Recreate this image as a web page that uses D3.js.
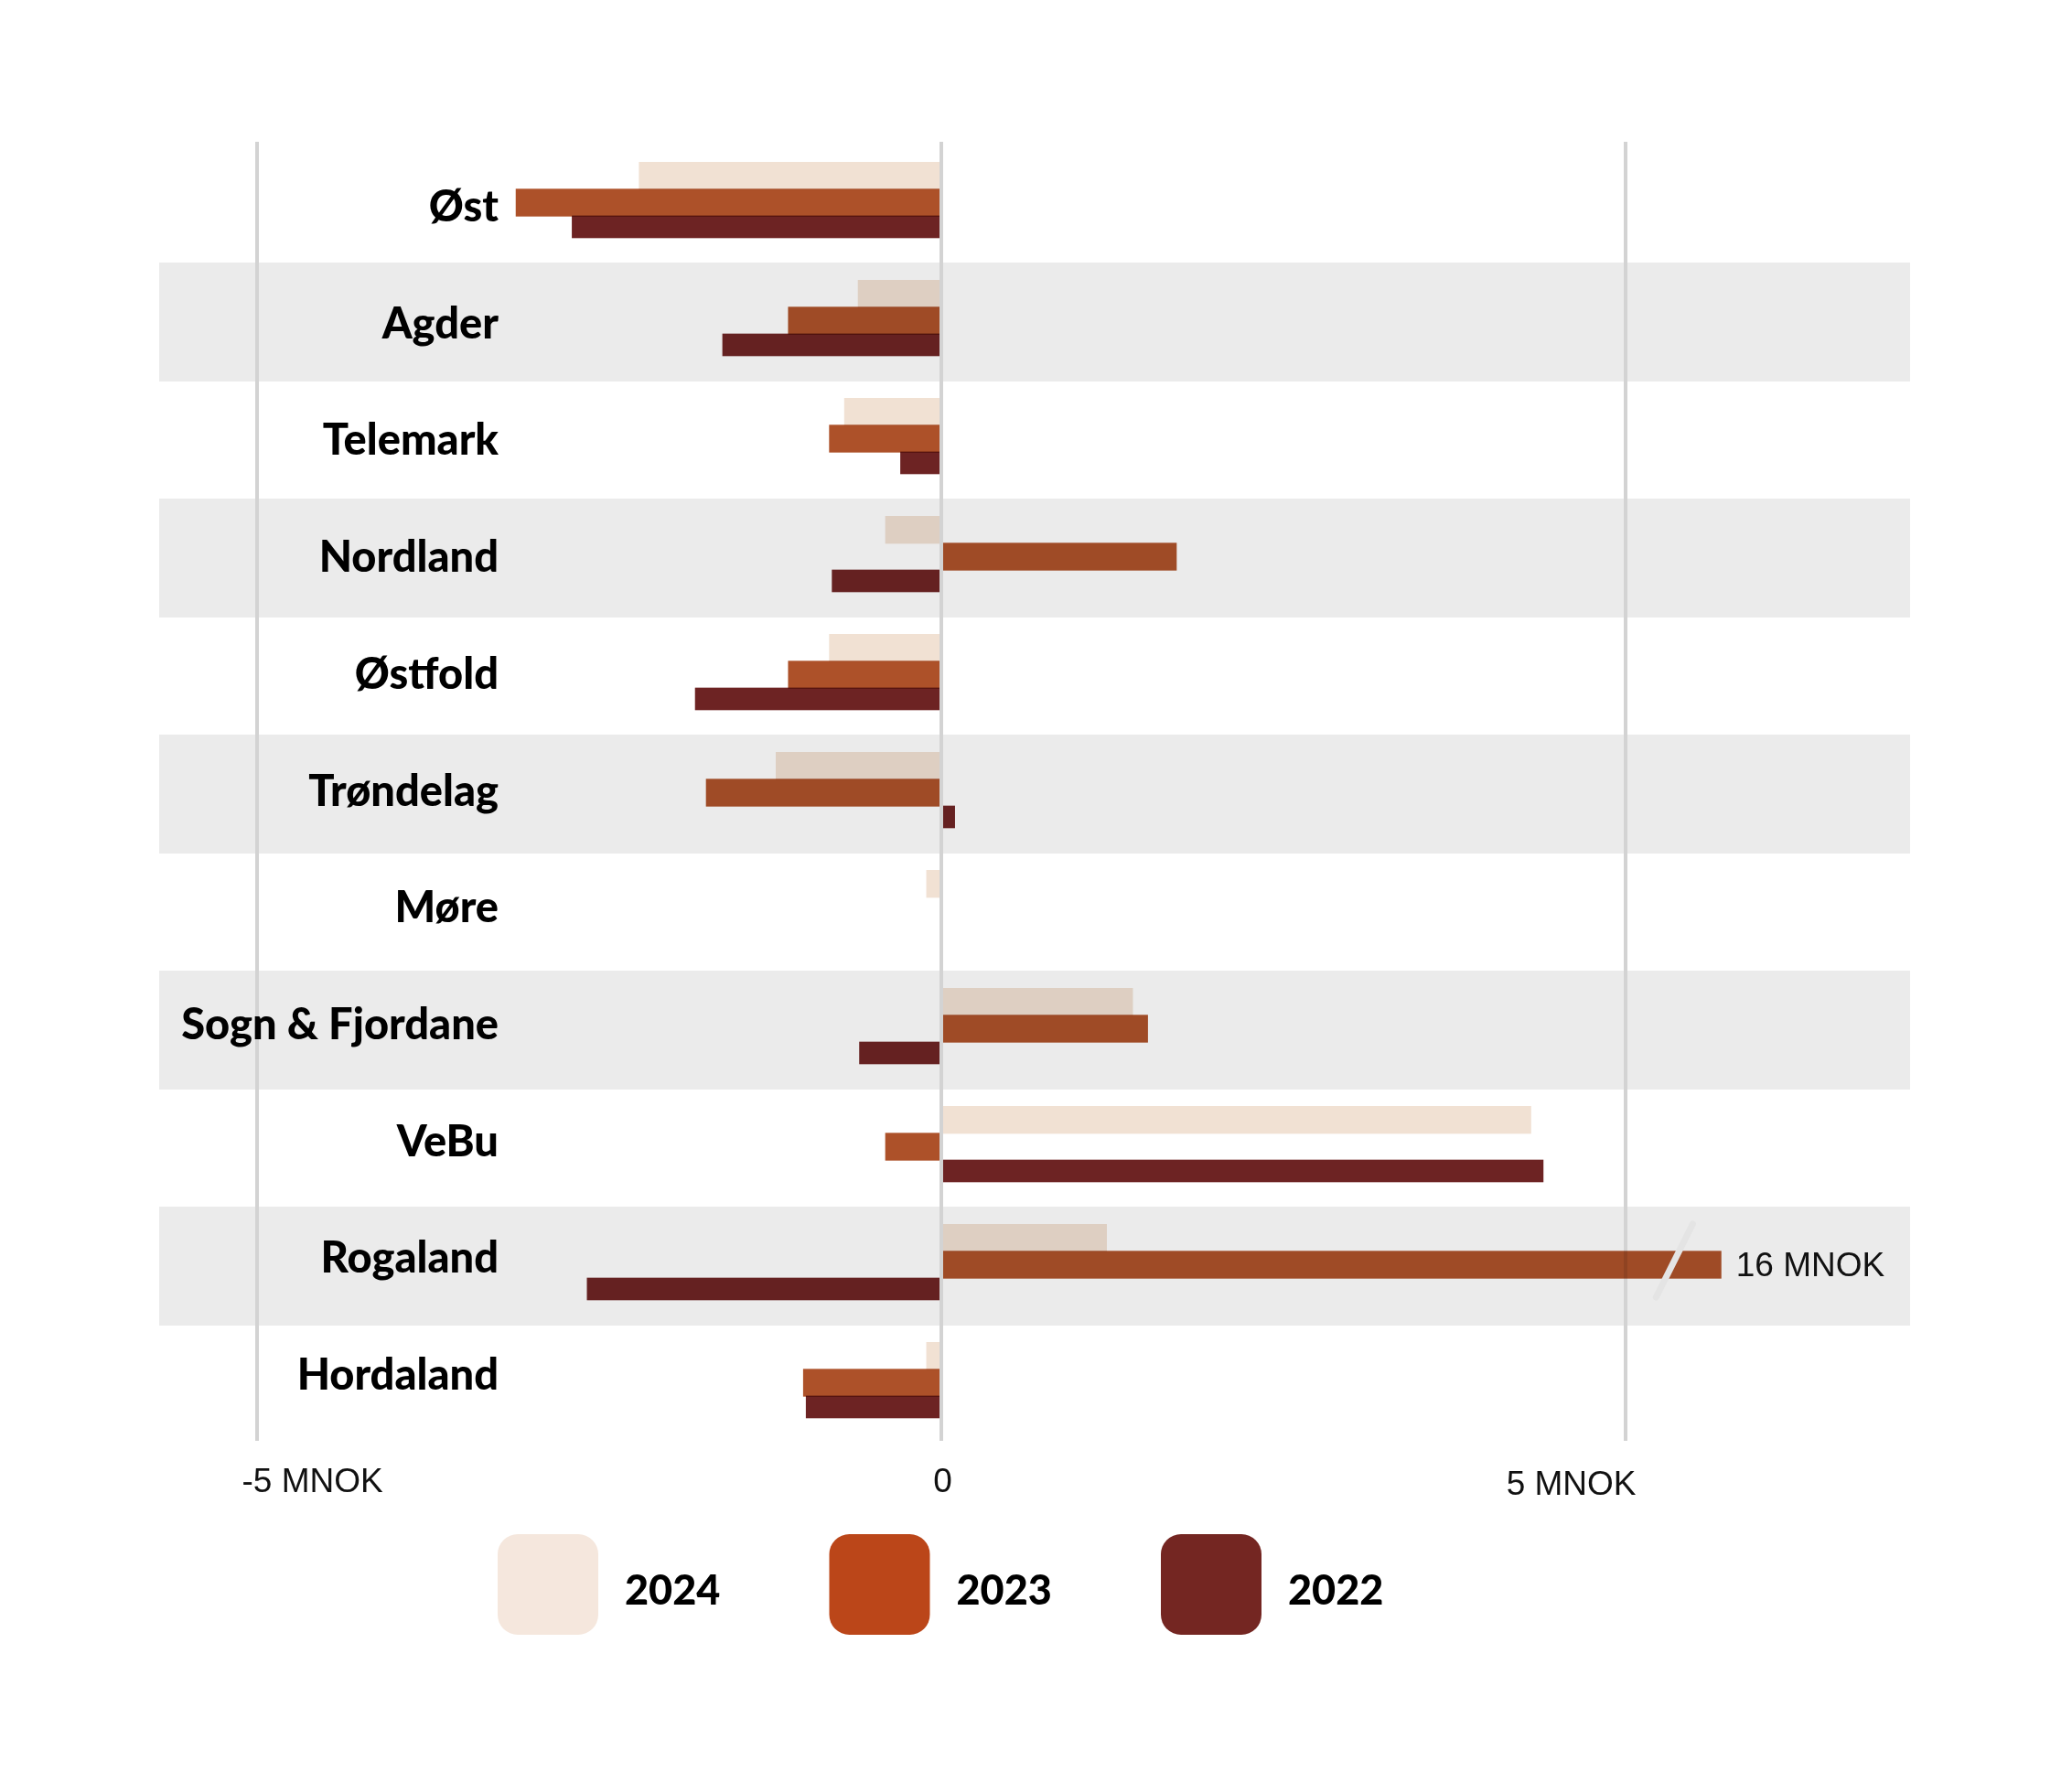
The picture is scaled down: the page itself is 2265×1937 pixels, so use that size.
<!DOCTYPE html>
<html>
<head>
<meta charset="utf-8">
<script src="https://cdn.jsdelivr.net/npm/d3@7"></script>
<style>
  body { margin: 0; background: #fff; }
  svg { display: block; }
</style>
</head>
<body>
<svg id="chart"></svg>
<script>
// regions top to bottom, values in MNOK
var regions = ["Øst", "Agder", "Telemark", "Nordland", "Østfold", "Trøndelag", "Møre",
  "Sogn & Fjordane", "VeBu", "Rogaland", "Hordaland"];
var years = ["2024", "2023", "2022"];
var v2024 = [-2.21, -0.61, -0.71, -0.41, -0.82, -1.21, -0.11, 1.40, 4.31, 1.21, -0.11];
var v2023 = [-3.11, -1.12, -0.82, 1.72, -1.12, -1.72, 0, 1.51, -0.41, 16, -1.01];
var v2022 = [-2.70, -1.60, -0.30, -0.80, -1.80, 0.10, 0, -0.60, 4.40, -2.59, -0.99];
var tickValues = [-5, 0, 5];
var tickLabels = ["-5 MNOK", "0", "5 MNOK"];
var capValue = 5.7; // bars longer than this are cut with a break mark

var barColors = { "2024": "#F1E1D3", "2023": "#AD5129", "2022": "#6D2323" };
var legendColors = { "2024": "#F5E7DD", "2023": "#BB4619", "2022": "#742622" };

var W = 2265, H = 1937;
var svg = d3.select('#chart').attr('width', W).attr('height', H);

var x = d3.scaleLinear().domain([-5, 5]).range([281, 1777]);
var y = d3.scaleBand().domain(regions).range([158, 1577]);
var inner = d3.scaleBand().domain(years).range([19, 107]);
var labelY = d3.scalePoint().domain(regions).range([242, 1519]);

var series = regions.map(function (r, i) {
  return { region: r, i: i, vals: { "2024": v2024[i], "2023": v2023[i], "2022": v2022[i] } };
});

// striped rows
svg.append('g').selectAll('rect')
  .data(series.filter(function (d) { return d.i % 2 === 1; }))
  .enter().append('rect')
  .attr('x', 174)
  .attr('width', 2088 - 174)
  .attr('y', function (d) { return y(d.region); })
  .attr('height', y.bandwidth() + 1)
  .attr('fill', '#ebebeb');

// grid lines
svg.append('g').selectAll('line')
  .data(tickValues)
  .enter().append('line')
  .attr('x1', function (d) { return x(d); })
  .attr('x2', function (d) { return x(d); })
  .attr('y1', 155)
  .attr('y2', 1575)
  .style('stroke', '#d3d3d3')
  .style('stroke-width', 4);

// bars
var rows = svg.append('g').selectAll('g')
  .data(series)
  .enter().append('g')
  .attr('transform', function (d) { return 'translate(0,' + y(d.region) + ')'; });

rows.selectAll('rect')
  .data(function (d) {
    return years.map(function (yr) { return { year: yr, value: d.vals[yr] }; })
      .filter(function (b) { return b.value !== 0; });
  })
  .enter().append('rect')
  .attr('x', function (b) { return b.value > 0 ? x(0) + 2 : x(b.value); })
  .attr('width', function (b) {
    var v = Math.min(b.value, capValue);
    return Math.max(0, Math.abs(x(v) - x(0)) - 2);
  })
  .attr('y', function (b) { return inner(b.year); })
  .attr('height', function (b) { return b.year === "2022" ? inner.bandwidth() * 0.84 : inner.bandwidth() + 1; })
  .attr('fill', function (b) { return barColors[b.year]; })
  .style('mix-blend-mode', 'multiply');

// break marks and value label for capped bars
series.forEach(function (d) {
  years.forEach(function (yr) {
    var v = d.vals[yr];
    if (v > capValue) {
      var cy = y(d.region) + inner(yr) + inner.bandwidth() / 2;
      var bx = x(capValue - 0.35);
      svg.append('line')
        .attr('x1', bx + 21).attr('y1', cy - 44)
        .attr('x2', bx - 19).attr('y2', cy + 36)
        .style('stroke', '#e4e4e4')
        .style('stroke-width', 7)
        .style('stroke-linecap', 'round');
      svg.append('text')
        .attr('x', x(capValue) + 16)
        .attr('y', cy + 13)
        .style('font-family', "'Liberation Sans', Arial, sans-serif")
        .style('font-size', '37px')
        .style('fill', '#111')
        .text(v + ' MNOK');
    }
  });
});

// region labels
svg.append('g').selectAll('text')
  .data(regions)
  .enter().append('text')
  .attr('x', 545)
  .attr('y', function (r) { return labelY(r); })
  .attr('text-anchor', 'end')
  .style('font-family', "Lato, 'Noto Sans', sans-serif")
  .style('font-weight', 900)
  .style('font-size', '47px')
  .style('fill', '#000')
  .text(function (r) { return r; });

// x axis labels
var axis = d3.axisBottom(x)
  .tickValues(tickValues)
  .tickSize(0)
  .tickFormat(function (d, i) { return tickLabels[i]; });

var ax = svg.append('g')
  .attr('transform', 'translate(0,1602)')
  .call(axis);
ax.select('.domain').remove();
ax.selectAll('text')
  .attr('dy', null)
  .attr('y', function (d) { return d === 5 ? 32 : 29; })
  .attr('dx', function (d) { return d === -5 ? -17 : (d === 5 ? 11 : 1); })
  .attr('text-anchor', function (d) { return d === -5 ? 'start' : (d === 5 ? 'end' : 'middle'); })
  .style('font-family', "'Liberation Sans', Arial, sans-serif")
  .style('font-size', '37px')
  .style('fill', '#111');

// legend
var legend = svg.append('g').selectAll('g')
  .data(years)
  .enter().append('g')
  .attr('transform', function (d, i) { return 'translate(' + (544 + i * 362.5) + ',1677)'; });

legend.append('rect')
  .attr('width', 110)
  .attr('height', 110)
  .attr('rx', 22)
  .attr('fill', function (d) { return legendColors[d]; });

legend.append('text')
  .attr('x', 139)
  .attr('y', 77)
  .style('font-family', "Lato, 'Noto Sans', sans-serif")
  .style('font-weight', 900)
  .style('font-size', '45px')
  .style('fill', '#000')
  .text(function (d) { return d; });
</script>
</body>
</html>
